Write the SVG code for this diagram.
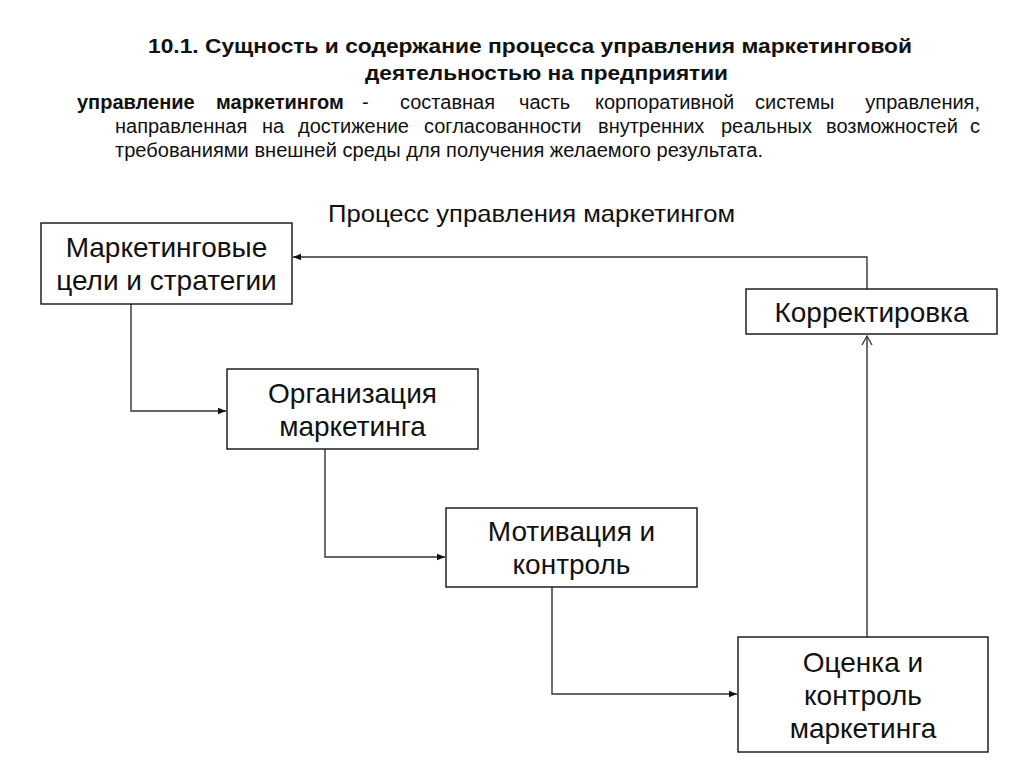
<svg xmlns="http://www.w3.org/2000/svg" width="1024" height="767" viewBox="0 0 1024 767">
  <defs>
    <style>
      .hd { font-family: "Liberation Sans", Arial, sans-serif; fill: #111; }
      .tb { font-weight: bold; font-size: 20px; }
      .p { font-size: 20px; }
      .pb { font-size: 20px; font-weight: bold; }
      .lbl { font-family: "Liberation Sans", Arial, sans-serif; font-size: 28px; fill: #111; text-anchor: middle; }
      .cap { font-family: "Liberation Sans", Arial, sans-serif; font-size: 24px; fill: #111; }
      .box { fill: #fff; stroke: #111; stroke-width: 1.4; }
      .conn { fill: none; stroke: #333; stroke-width: 1.4; }
    </style>
    <marker id="arr" markerUnits="userSpaceOnUse" markerWidth="10" markerHeight="10" refX="9" refY="5" orient="auto">
      <path d="M1,1.8 L9,5 L1,8.2 Z" fill="#111"/>
    </marker>
    <marker id="open" markerUnits="userSpaceOnUse" markerWidth="14" markerHeight="14" refX="11" refY="7" orient="auto">
      <path d="M2,2 L11,7 L2,12" fill="none" stroke="#333" stroke-width="1.3"/>
    </marker>
  </defs>
  <rect width="1024" height="767" fill="#fff"/>

  <g id="header">
    <text class="hd tb" x="148" y="53" textLength="764" lengthAdjust="spacingAndGlyphs">10.1. Сущность и содержание процесса управления маркетинговой</text>
    <text class="hd tb" x="365" y="80" textLength="363" lengthAdjust="spacingAndGlyphs">деятельностью на предприятии</text>
    <g id="para-line1">
      <text class="hd pb" x="77" y="109">управление</text>
      <text class="hd pb" x="216" y="109">маркетингом</text>
      <text class="hd p" x="362" y="109">-</text>
      <text class="hd p" x="400" y="109">составная</text>
      <text class="hd p" x="519" y="109">часть</text>
      <text class="hd p" x="595" y="109">корпоративной</text>
      <text class="hd p" x="755" y="109">системы</text>
      <text class="hd p" x="980" y="109" text-anchor="end">управления,</text>
    </g>
    <g id="para-line2">
      <text class="hd p" x="115" y="133">направленная</text>
      <text class="hd p" x="262" y="133">на</text>
      <text class="hd p" x="298" y="133">достижение</text>
      <text class="hd p" x="424" y="133">согласованности</text>
      <text class="hd p" x="598" y="133">внутренних</text>
      <text class="hd p" x="721" y="133">реальных</text>
      <text class="hd p" x="826" y="133">возможностей</text>
      <text class="hd p" x="980" y="133" text-anchor="end">с</text>
    </g>
    <text class="hd p" x="115" y="157" textLength="648" lengthAdjust="spacingAndGlyphs">требованиями внешней среды для получения желаемого результата.</text>
    <text class="cap" x="328" y="222" textLength="407" lengthAdjust="spacingAndGlyphs">Процесс управления маркетингом</text>
  </g>

  <g id="connectors">
    <polyline class="conn" points="131,304 131,411 226,411" marker-end="url(#arr)"/>
    <polyline class="conn" points="325,449 325,557 445,557" marker-end="url(#arr)"/>
    <polyline class="conn" points="552,587 552,694 737,694" marker-end="url(#arr)"/>
    <polyline class="conn" points="867,637 867,336" marker-end="url(#open)"/>
    <polyline class="conn" points="867,289 867,257 293,257" marker-end="url(#arr)"/>
  </g>

  <g id="node-goals">
    <rect class="box" x="41" y="223" width="251" height="81"/>
    <text class="lbl" x="166.5" y="257">Маркетинговые</text>
    <text class="lbl" x="166.5" y="290">цели и стратегии</text>
  </g>
  <g id="node-organization">
    <rect class="box" x="227" y="369" width="251" height="80"/>
    <text class="lbl" x="352.5" y="402.5">Организация</text>
    <text class="lbl" x="352.5" y="435.5">маркетинга</text>
  </g>
  <g id="node-motivation">
    <rect class="box" x="446" y="508" width="251" height="79"/>
    <text class="lbl" x="571.5" y="541">Мотивация и</text>
    <text class="lbl" x="571.5" y="574">контроль</text>
  </g>
  <g id="node-correction">
    <rect class="box" x="746" y="289" width="251" height="45"/>
    <text class="lbl" x="871.5" y="321.5">Корректировка</text>
  </g>
  <g id="node-evaluation">
    <rect class="box" x="738" y="637" width="250" height="115"/>
    <text class="lbl" x="863" y="671.5">Оценка и</text>
    <text class="lbl" x="863" y="704.5">контроль</text>
    <text class="lbl" x="863" y="737.5">маркетинга</text>
  </g>
</svg>
